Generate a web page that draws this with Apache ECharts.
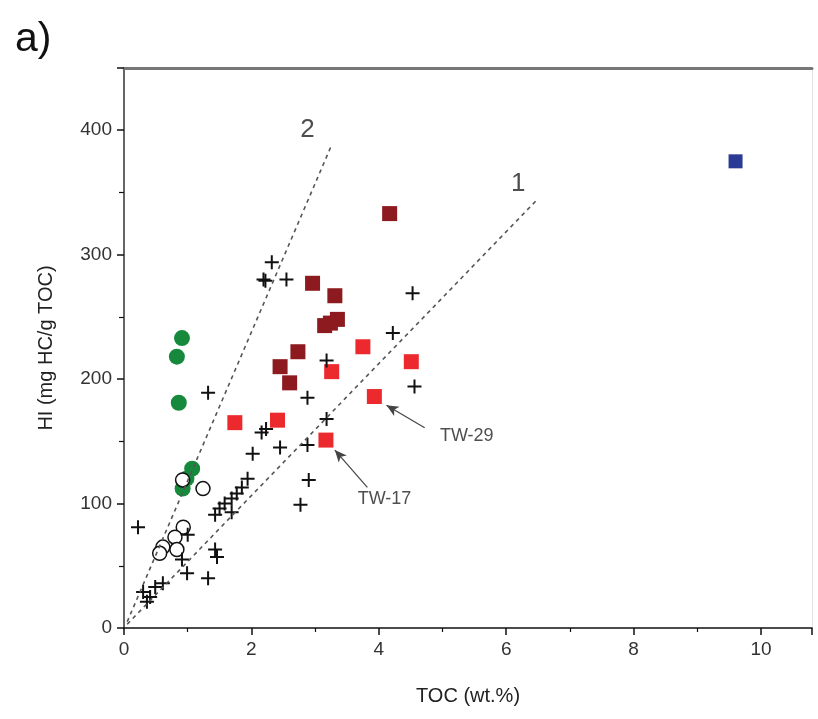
<!DOCTYPE html>
<html>
<head>
<meta charset="utf-8">
<script src="https://cdn.jsdelivr.net/npm/echarts@6/dist/echarts.min.js"></script>
<style>
html,body{margin:0;padding:0;background:#fff;}
#c{width:818px;height:719px;}
</style>
</head>
<body>
<div id="c"></div>
<script>
// TOC (wt.%), HI (mg HC/g TOC)
var crosses = [[2.32,294],[2.19,280],[2.22,279],[2.55,280],[4.53,269],[4.22,237],[1.32,189],[3.18,215],[4.56,194],[2.88,185],[3.18,168],[2.88,147],[2.45,145],[2.16,157],[2.23,160],[2.02,140],[2.9,119],[2.77,99],[1.94,120],[1.85,113],[1.77,108],[1.69,104],[1.58,100],[1.5,96],[1.43,91],[1.69,93],[0.22,81],[1.43,63],[1.46,57],[1.32,40],[0.99,44],[0.91,55],[1.0,75],[0.3,29],[0.41,25],[0.49,33],[0.61,36],[0.36,21]];
var openCircles = [[1.24,112],[0.92,119],[0.93,81],[0.8,73],[0.61,65],[0.56,60],[0.83,63]];
var greenCircles = [[0.91,233],[0.83,218],[0.86,181],[1.07,128],[0.92,112],[0.98,120]];
var darkRedSquares = [[4.17,333],[2.96,277],[3.31,267],[3.35,248],[3.15,243],[3.24,245],[2.73,222],[2.45,210],[2.6,197]];
var redSquares = [[1.74,165],[2.41,167],[3.17,151],[3.26,206],[3.75,226],[3.93,186],[4.51,214]];
var blueSquares = [[9.6,375]];
var line1 = [[0.05,3],[6.5,345]];
var line2 = [[0.05,5],[3.25,387]];
var lineLabels = [[6.19,357,'1'],[2.88,400,'2']];
var sampleLabels = [[5.38,154,'TW-29'],[4.09,104,'TW-17']];
var arrows = [[[4.72,161],[4.12,179]],[[3.82,113],[3.31,143]]];
var xTicks = [0,2,4,6,8,10];
var yTicks = [0,100,200,300,400];

var chart = echarts.init(document.getElementById('c'));
var font = 'Liberation Sans, Arial, sans-serif';
var plus = 'path://M-1,-7 L1,-7 L1,-1 L7,-1 L7,1 L1,1 L1,7 L-1,7 L-1,1 L-7,1 L-7,-1 L-1,-1 Z';

chart.setOption({
  animation:false,
  backgroundColor:'#fff',
  graphic:[{type:'text',left:15,top:19,style:{text:'a)',font:'41px '+font,fill:'#111'}}],
  grid:{left:124,right:6,top:68,bottom:91},
  xAxis:[{
    type:'value',min:0,max:10.8,interval:2,
    axisLine:{show:true,onZero:false,lineStyle:{color:'#111',width:1.5}},
    axisTick:{inside:false,length:7,lineStyle:{color:'#111',width:1.5}},
    minorTick:{show:true,splitNumber:2,length:4,lineStyle:{color:'#111',width:1.2}},
    splitLine:{show:false},
    axisLabel:{color:'#333',fontSize:19,fontFamily:font,margin:12,
      formatter:function(v){return xTicks.indexOf(v)>=0?String(v):'';}},
    name:'TOC (wt.%)',nameLocation:'middle',nameGap:58,
    nameTextStyle:{color:'#222',fontSize:20,fontFamily:font}
  },{
    type:'value',position:'top',min:0,max:10.8,
    axisLine:{show:true,onZero:false,lineStyle:{color:'#777',width:3}},
    axisTick:{show:false},axisLabel:{show:false},splitLine:{show:false}
  }],
  yAxis:[{
    type:'value',min:0,max:450,interval:100,
    axisLine:{show:true,onZero:false,lineStyle:{color:'#333',width:1.5}},
    axisTick:{length:7,lineStyle:{color:'#111',width:1.5}},
    minorTick:{show:true,splitNumber:2,length:5,lineStyle:{color:'#111',width:1.2}},
    splitLine:{show:false},
    axisLabel:{color:'#333',fontSize:19,fontFamily:font,margin:12,
      formatter:function(v){return yTicks.indexOf(v)>=0?String(v):'';}},
    name:'HI (mg HC/g TOC)',nameLocation:'middle',nameGap:68,
    nameTextStyle:{color:'#222',fontSize:20,fontFamily:font}
  },{
    type:'value',position:'right',min:0,max:450,
    axisLine:{show:true,onZero:false,lineStyle:{color:'#e4e4e4',width:1}},
    axisTick:{show:false},axisLabel:{show:false},splitLine:{show:false}
  }],
  series:[
    {type:'line',data:line1,symbol:'none',silent:true,
      lineStyle:{color:'#555',width:1.6,type:[4,4]}},
    {type:'line',data:line2,symbol:'none',silent:true,
      lineStyle:{color:'#555',width:1.6,type:[4,4]}},
    {type:'scatter',data:lineLabels,symbolSize:0,
      label:{show:true,position:'inside',formatter:function(p){return p.data[2];},
        fontSize:26,fontFamily:font,color:'#222'}},
    {type:'scatter',data:darkRedSquares,symbol:'rect',symbolSize:15,
      itemStyle:{color:'#8c1a1f',opacity:1}},
    {type:'scatter',data:redSquares,symbol:'rect',symbolSize:15,
      itemStyle:{color:'#ec2a2e',opacity:1},
      markLine:{silent:true,symbol:['none','arrow'],symbolSize:[8,12],
        label:{show:false},
        lineStyle:{color:'#444',width:1.2,type:'solid'},
        data:arrows.map(function(a){return [{coord:a[0]},{coord:a[1]}];})}},
    {type:'scatter',data:blueSquares,symbol:'rect',symbolSize:14,
      itemStyle:{color:'#2b3a94',opacity:1}},
    {type:'scatter',data:greenCircles,symbol:'circle',symbolSize:16,
      itemStyle:{color:'#17893c',opacity:1}},
    {type:'scatter',data:openCircles,symbol:'circle',symbolSize:14,
      itemStyle:{color:'#fff',borderColor:'#111',borderWidth:1.5,opacity:1}},
    {type:'scatter',data:crosses,symbol:plus,symbolSize:14,
      itemStyle:{color:'#111',opacity:1}},
    {type:'scatter',data:sampleLabels,symbolSize:0,
      label:{show:true,position:'inside',formatter:function(p){return p.data[2];},
        fontSize:18,fontFamily:font,color:'#222'}}
  ]
});
</script>
</body>
</html>
